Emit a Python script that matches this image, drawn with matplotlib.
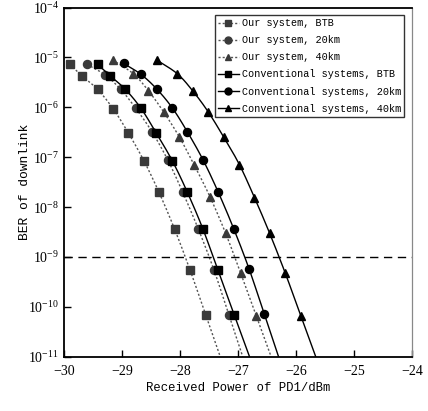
import numpy as np
import matplotlib
matplotlib.use('Agg')
import matplotlib.pyplot as plt

plt.rcParams['mathtext.fontset'] = 'custom'
plt.rcParams['mathtext.rm'] = 'Liberation Serif'
plt.rcParams['mathtext.it'] = 'Liberation Serif'
plt.rcParams['font.family'] = 'Liberation Serif'

# received power (dBm) and log10(BER)
our_btb_x = [-29.91, -29.70, -29.43, -29.16, -28.90, -28.63, -28.37, -28.10, -27.83, -27.56]
our_btb_y = [-5.14, -5.37, -5.64, -6.03, -6.51, -7.07, -7.70, -8.44, -9.27, -10.17]
our_20_x = [-29.61, -29.30, -29.03, -28.77, -28.49, -28.22, -27.96, -27.69, -27.42, -27.16]
our_20_y = [-5.14, -5.35, -5.64, -6.02, -6.49, -7.05, -7.70, -8.44, -9.26, -10.17]
our_40_x = [-29.17, -28.81, -28.55, -28.29, -28.02, -27.76, -27.49, -27.22, -26.96, -26.69]
our_40_y = [-5.05, -5.33, -5.67, -6.09, -6.59, -7.16, -7.79, -8.52, -9.32, -10.18]
conv_btb_x = [-29.43, -29.21, -28.95, -28.68, -28.42, -28.14, -27.88, -27.61, -27.35, -27.07]
conv_btb_y = [-5.14, -5.37, -5.64, -6.02, -6.51, -7.07, -7.70, -8.44, -9.27, -10.16]
conv_20_x = [-28.98, -28.68, -28.41, -28.14, -27.88, -27.61, -27.35, -27.08, -26.81, -26.55]
conv_20_y = [-5.12, -5.34, -5.63, -6.01, -6.49, -7.05, -7.69, -8.43, -9.25, -10.15]
conv_40_x = [-28.41, -28.05, -27.78, -27.52, -27.25, -26.98, -26.72, -26.46, -26.19, -25.92]
conv_40_y = [-5.05, -5.33, -5.68, -6.09, -6.60, -7.15, -7.81, -8.52, -9.32, -10.18]

labels = ['Our system, BTB', 'Our system, 20km', 'Our system, 40km',
          'Conventional systems, BTB', 'Conventional systems, 20km',
          'Conventional systems, 40km']
ber_limit = 1e-9
y_floor = -11


def smooth(x, ly, n=20):
    # extend the last segment down to the floor, then Catmull-Rom through the points
    x = list(x)
    ly = list(ly)
    slope = (x[-1] - x[-2]) / (ly[-1] - ly[-2])
    x.append(x[-1] + slope * (y_floor - ly[-1]))
    ly.append(y_floor)
    p = np.column_stack([x, ly])
    p = np.vstack([p[0] - (p[1] - p[0]), p, p[-1] + (p[-1] - p[-2])])
    out = []
    t = np.linspace(0, 1, n, endpoint=False)[:, None]
    for i in range(1, len(p) - 2):
        p0, p1, p2, p3 = p[i - 1], p[i], p[i + 1], p[i + 2]
        seg = 0.5 * ((2 * p1) + (-p0 + p2) * t + (2 * p0 - 5 * p1 + 4 * p2 - p3) * t ** 2
                     + (-p0 + 3 * p1 - 3 * p2 + p3) * t ** 3)
        out.append(seg)
    out.append(p[-2][None, :])
    out = np.vstack(out)
    return out[:, 0], 10 ** out[:, 1]


fig = plt.figure(figsize=(4.28, 4.11), dpi=100)
ax = fig.add_axes([0.1507, 0.1321, 0.812, 0.8496])

series = [
    (our_btb_x, our_btb_y, 's', '#3a3a3a', ':'),
    (our_20_x, our_20_y, 'o', '#3a3a3a', ':'),
    (our_40_x, our_40_y, '^', '#3a3a3a', ':'),
    (conv_btb_x, conv_btb_y, 's', 'black', '-'),
    (conv_20_x, conv_20_y, 'o', 'black', '-'),
    (conv_40_x, conv_40_y, '^', 'black', '-'),
]

dotted = (0, (1.5, 1.5))
handles = []
for (x, ly, mk, col, ls), lab in zip(series, labels):
    lcol = '#555555' if ls == ':' else 'black'
    lstyle = dotted if ls == ':' else '-'
    sx, sy = smooth(x, ly)
    ax.plot(sx, sy, ls=lstyle, color=lcol, lw=1.0)
    ax.plot(x, 10 ** np.array(ly), mk, color=col, ms=5.8, mec=col, ls='none')
    h, = ax.plot([], [], ls=lstyle, color=lcol, lw=1.0, marker=mk, ms=5,
                 mfc=col, mec=col)
    handles.append(h)

ax.axhline(ber_limit, color='black', lw=1.0, ls=(0, (6, 4)))

ax.set_yscale('log')
ax.set_xlim(-30, -24)
ax.set_ylim(1e-11, 1e-4)
ax.set_xticks([-30, -29, -28, -27, -26, -25, -24])
ax.set_xticklabels(['\u221230', '\u221229', '\u221228', '\u221227', '\u221226',
                    '\u221225', '\u221224'])
ax.set_yticks([10.0 ** k for k in range(-11, -3)])
ax.minorticks_off()
ax.tick_params(direction='in', length=5, width=1.0, labelsize=10, pad=6)
ax.tick_params(axis='y', pad=4)
for s in ['left', 'bottom', 'top']:
    ax.spines[s].set_linewidth(1.3)
ax.spines['right'].set_color('#888888')
ax.spines['right'].set_linewidth(0.9)

ax.set_xlabel('Received Power of PD1/dBm', family='Liberation Mono', fontsize=8.8,
              labelpad=3)
ax.set_ylabel('BER of downlink', family='Liberation Mono', fontsize=9.4, labelpad=0)
ax.yaxis.set_label_coords(-0.095, 0.5)

leg = ax.legend(handles, labels, loc='upper right', prop={'family': 'Liberation Mono',
                'size': 7.3}, frameon=True, fancybox=False, handlelength=2.0,
                handletextpad=0.35, borderaxespad=0.75, labelspacing=0.7,
                borderpad=0.3)
leg.get_frame().set_edgecolor('black')
leg.get_frame().set_linewidth(1.0)

fig.savefig('out.png', dpi=100)
